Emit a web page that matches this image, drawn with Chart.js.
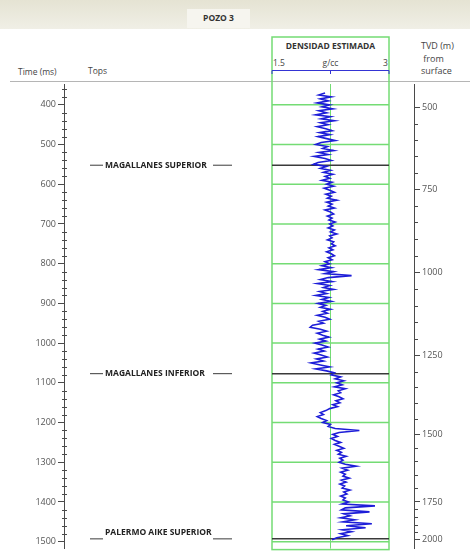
<!DOCTYPE html>
<html>
<head>
<meta charset="utf-8">
<script src="https://cdn.jsdelivr.net/npm/chart.js@4.4.1/dist/chart.umd.min.js"></script>
<style>
  body { margin: 0; background: #fff; font-family: "Open Sans", sans-serif; color: #444; }
  #wrap { position: relative; width: 470px; height: 556px; overflow: hidden; }
  #band { position: absolute; left: 0; top: 0; width: 470px; height: 29px; background: linear-gradient(#e5e3d3, #f0efe6); }
  #pozo { position: absolute; left: 187px; top: 9px; width: 63px; height: 19px; background: #f6f5ef;
          font-size: 8.5px; font-weight: bold; text-align: center; line-height: 17px; color: #333; }
  .lbl { position: absolute; font-size: 8.5px; white-space: nowrap; }
  #chart { position: absolute; left: 0; top: 0; }
</style>
</head>
<body>
<div id="wrap">
  <div id="band"></div>
  <div id="pozo">POZO 3</div>
  <div class="lbl" style="left:18px;top:66px;">Time (ms)</div>
  <div class="lbl" style="left:88px;top:65px;">Tops</div>
  <div class="lbl" style="left:272px;top:40px;width:117px;text-align:center;font-weight:bold;font-size:8.5px;color:#333;">DENSIDAD ESTIMADA</div>
  <div class="lbl" style="left:273px;top:57px;">1.5</div>
  <div class="lbl" style="left:272px;top:57px;width:117px;text-align:center;">g/cc</div>
  <div class="lbl" style="left:383px;top:57px;">3</div>
  <div class="lbl" style="left:421px;top:40px;font-size:9px;line-height:12.5px;">TVD (m)<br>&nbsp;from<br>surface</div>
  <canvas id="chart" width="470" height="556"></canvas>
</div>
<script>
// densidad estimada (g/cc), una muestra cada 5 ms desde 370 ms
const timeStart = 370;
const timeStep = 5;
const density = [
  2.18, 2.10, 2.26, 2.12, 2.22, 2.08, 2.24, 2.14, 2.28, 2.10, // 370
  2.20, 2.06, 2.25, 2.13, 2.30, 2.12, 2.22, 2.08, 2.19, 2.27, // 420
  2.11, 2.24, 2.09, 2.20, 2.31, 2.13, 2.06, 2.21, 2.15, 2.29, // 470
  2.10, 2.22, 2.04, 2.18, 2.26, 2.09, 2.03, 2.20, 2.12, 2.25, // 520
  2.16, 2.28, 2.18, 2.24, 2.14, 2.27, 2.20, 2.29, 2.17, 2.24, // 570
  2.30, 2.19, 2.26, 2.21, 2.33, 2.20, 2.27, 2.22, 2.30, 2.18, // 620
  2.25, 2.29, 2.21, 2.27, 2.23, 2.31, 2.24, 2.28, 2.22, 2.30, // 670
  2.25, 2.33, 2.24, 2.27, 2.21, 2.29, 2.26, 2.31, 2.23, 2.28, // 720
  2.20, 2.26, 2.30, 2.22, 2.27, 2.18, 2.24, 2.14, 2.26, 2.10, // 770
  2.29, 2.18, 2.52, 2.22, 2.12, 2.27, 2.08, 2.24, 2.16, 2.29, // 820
  2.11, 2.20, 2.06, 2.23, 2.14, 2.26, 2.09, 2.19, 2.12, 2.25, // 870
  2.15, 2.21, 2.08, 2.18, 2.24, 2.10, 2.16, 2.02, 1.99, 2.12, // 920
  2.20, 2.08, 2.15, 2.23, 2.11, 2.19, 2.05, 2.14, 2.22, 2.09, // 970
  2.17, 2.04, 2.13, 2.21, 2.07, 2.16, 2.00, 2.12, 2.24, 2.06, // 1020
  2.20, 2.30, 2.26, 2.38, 2.31, 2.42, 2.33, 2.40, 2.30, 2.44, // 1070
  2.35, 2.38, 2.29, 2.36, 2.41, 2.32, 2.37, 2.28, 2.34, 2.24, // 1120
  2.19, 2.12, 2.16, 2.08, 2.13, 2.20, 2.15, 2.25, 2.22, 2.31, // 1170
  2.62, 2.36, 2.28, 2.34, 2.26, 2.31, 2.38, 2.30, 2.36, 2.42, // 1220
  2.33, 2.39, 2.35, 2.45, 2.37, 2.41, 2.36, 2.44, 2.58, 2.40, // 1270
  2.47, 2.38, 2.44, 2.41, 2.49, 2.39, 2.45, 2.37, 2.43, 2.40, // 1320
  2.50, 2.42, 2.46, 2.38, 2.44, 2.41, 2.48, 2.40, 2.82, 2.44, // 1370
  2.39, 2.75, 2.42, 2.50, 2.38, 2.56, 2.41, 2.78, 2.45, 2.70, // 1420
  2.40, 2.52, 2.38, 2.47, 2.33, 2.27                          // 1470
];

// topes formacionales
const topNames = ["MAGALLANES SUPERIOR", "MAGALLANES INFERIOR", "PALERMO AIKE SUPERIOR"];
const topTimes = [552, 1077, 1493];

// eje derecho TVD (m) contra tiempo (ms)
const tvdDepths = [500, 750, 1000, 1250, 1500, 1750, 2000];
const tvdTimes = [407, 612, 822, 1032, 1230, 1400, 1495];

const gridTimes = [400, 500, 600, 700, 800, 900, 1000, 1100, 1200, 1300, 1400, 1500];

function depthToTime(d) {
  for (let i = 0; i < tvdDepths.length - 1; i++) {
    if (d <= tvdDepths[i + 1]) {
      const f = (d - tvdDepths[i]) / (tvdDepths[i + 1] - tvdDepths[i]);
      return tvdTimes[i] + f * (tvdTimes[i + 1] - tvdTimes[i]);
    }
  }
  return tvdTimes[tvdTimes.length - 1];
}

const points = density.map((v, i) => ({ x: v, y: timeStart + i * timeStep }));

function line(ctx, x1, y1, x2, y2) {
  ctx.beginPath();
  ctx.moveTo(x1, y1);
  ctx.lineTo(x2, y2);
  ctx.stroke();
}

const trackPlugin = {
  id: "track",
  beforeDatasetsDraw(chart) {
    const { ctx, chartArea, scales } = chart;
    const x = scales.x, y = scales.y;
    const left = x.getPixelForValue(1.5);
    const right = x.getPixelForValue(3);
    const mid = x.getPixelForValue(2.25);
    ctx.save();

    ctx.strokeStyle = "#b5b5b5";
    ctx.lineWidth = 1;
    line(ctx, 10, 81.5, 470, 81.5);

    ctx.strokeStyle = "#74dc74";
    ctx.lineWidth = 1.5;
    gridTimes.forEach(t => {
      const py = y.getPixelForValue(t);
      line(ctx, left, py, right, py);
    });
    ctx.lineWidth = 1;
    line(ctx, mid, chartArea.top, mid, chartArea.bottom);
    ctx.lineWidth = 1.5;
    ctx.strokeRect(left, 37, right - left, chartArea.bottom + 1 - 37);

    ctx.strokeStyle = "#3434d4";
    ctx.lineWidth = 1;
    line(ctx, left, 70.5, right, 70.5);
    [left, mid, right].forEach(px => line(ctx, px, 70.5, px, 74));

    ctx.strokeStyle = "#3a3a3a";
    ctx.lineWidth = 1.5;
    ctx.fillStyle = "#222";
    ctx.font = "bold 8.5px 'Open Sans'";
    ctx.textBaseline = "middle";
    topTimes.forEach((t, i) => {
      const py = y.getPixelForValue(t);
      line(ctx, left, py, right, py);
      const ty = i === topTimes.length - 1 ? py - 6 : py;
      ctx.lineWidth = 1;
      line(ctx, 90, py, 103, py);
      line(ctx, 213, py, 232, py);
      ctx.fillText(topNames[i], 105, ty);
      ctx.lineWidth = 1.5;
    });
    ctx.restore();
  },
  afterDraw(chart) {
    const { ctx, scales } = chart;
    ctx.save();
    ctx.strokeStyle = "#4a4a4a";
    ctx.lineWidth = 1;
    const yl = scales.y;
    yl.ticks.forEach(tk => {
      if (tk.value % 100 !== 0) {
        const py = Math.round(yl.getPixelForValue(tk.value)) + 0.5;
        line(ctx, 62, py, 67, py);
      }
    });
    const yr = scales.tvd;
    yr.ticks.forEach(tk => {
      if (tk.depth % 250 !== 0) {
        const py = Math.round(yr.getPixelForValue(tk.value)) + 0.5;
        line(ctx, yr.left, py, yr.left + 4, py);
      }
    });
    ctx.restore();
  }
};

const axisFont = { family: "'Open Sans'", size: 9 };

new Chart(document.getElementById("chart"), {
  type: "line",
  data: {
    datasets: [{
      data: points,
      borderColor: "#1d1dd8",
      borderWidth: 1.6,
      pointRadius: 0,
      tension: 0,
      fill: false,
      xAxisID: "x",
      yAxisID: "y"
    }]
  },
  options: {
    responsive: false,
    animation: false,
    devicePixelRatio: 1,
    layout: { padding: { top: 84, bottom: 4, left: 0, right: 0 } },
    plugins: { legend: { display: false }, tooltip: { enabled: false } },
    scales: {
      x: { type: "linear", min: -1.1667, max: 3.3205, display: false },
      y: {
        type: "linear",
        position: "left",
        reverse: true,
        min: 347.5,
        max: 1517.5,
        afterFit: s => { s.width = 64; },
        border: { display: true, color: "#4a4a4a", width: 1 },
        grid: {
          drawOnChartArea: false,
          tickLength: 6,
          tickColor: c => (c.tick && c.tick.value % 100 === 0 ? "#4a4a4a" : "rgba(0,0,0,0)")
        },
        ticks: {
          stepSize: 20,
          includeBounds: false,
          autoSkip: false,
          padding: 2,
          color: "#555",
          font: axisFont,
          callback: v => (v % 100 === 0 ? v : "")
        }
      },
      tvd: {
        type: "linear",
        position: "right",
        reverse: true,
        min: 347.5,
        max: 1517.5,
        afterFit: s => { s.width = 56; },
        afterBuildTicks: s => {
          const ticks = [];
          for (let d = 500; d <= 2000; d += 50) ticks.push({ value: depthToTime(d), depth: d });
          s.ticks = ticks;
        },
        border: { display: true, color: "#4a4a4a", width: 1 },
        grid: {
          drawOnChartArea: false,
          tickLength: 6,
          tickColor: c => (c.tick && c.tick.depth % 250 === 0 ? "#4a4a4a" : "rgba(0,0,0,0)")
        },
        ticks: {
          autoSkip: false,
          padding: 2,
          color: "#555",
          font: axisFont,
          callback: (v, i, ticks) => (ticks[i].depth % 250 === 0 ? ticks[i].depth : "")
        }
      }
    }
  },
  plugins: [trackPlugin]
});
</script>
</body>
</html>
